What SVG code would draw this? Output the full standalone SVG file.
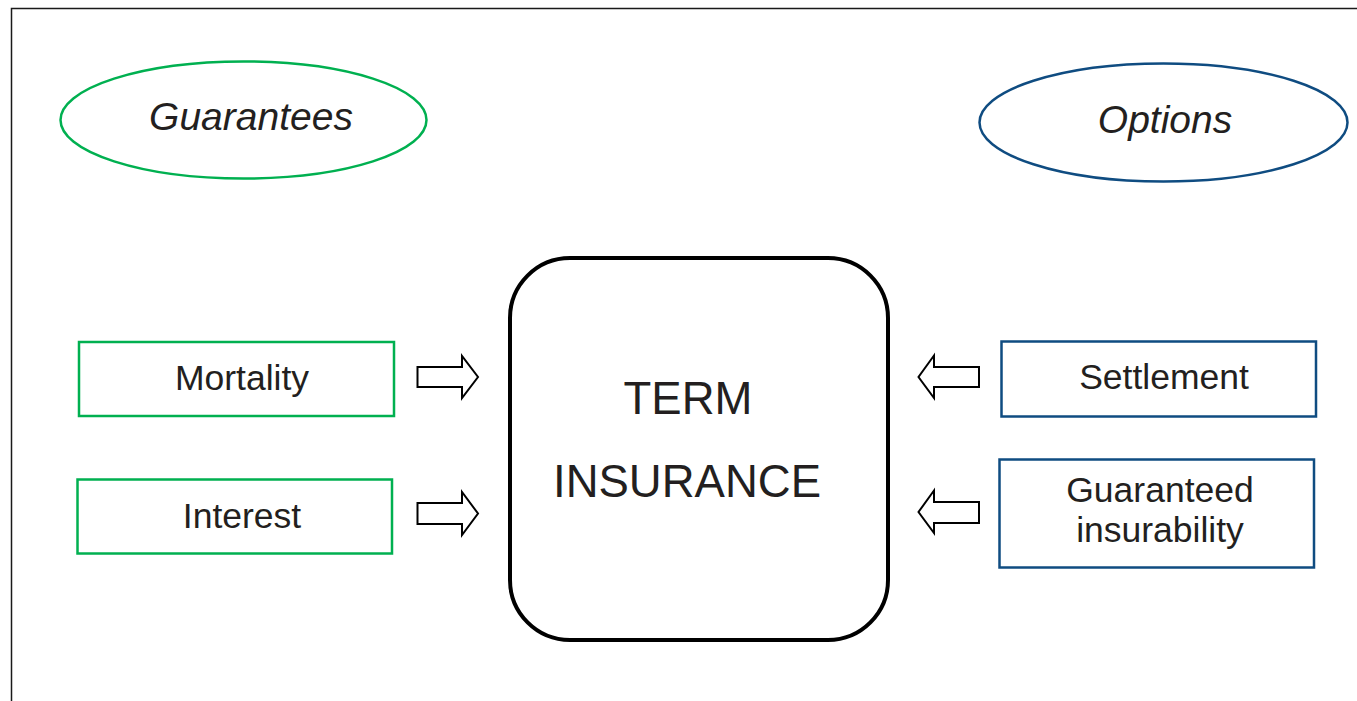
<svg xmlns="http://www.w3.org/2000/svg" width="1357" height="701" viewBox="0 0 1357 701">
  <style>
    .lbl { font-family: "Liberation Sans", Arial, sans-serif; fill: #231f20; text-anchor: middle; }
    .head { font-style: italic; font-size: 39px; }
    .box { font-size: 35.5px; }
    .main { font-size: 45.5px; }
    .g { fill: #fff; stroke: #00b050; stroke-width: 2.5; }
    .b { fill: #fff; stroke: #0f4c81; stroke-width: 2.5; }
    .arrow { fill: #fff; stroke: #000; stroke-width: 2; stroke-linejoin: miter; }
  </style>
  <rect width="1357" height="701" fill="#fff"/>
  <!-- outer frame -->
  <path d="M11.5 701 V8.5 H1357" fill="none" stroke="#1a1a1a" stroke-width="1.5"/>

  <g id="guarantees">
    <ellipse class="g" cx="243.5" cy="120" rx="183" ry="58.5"/>
    <text class="lbl head" x="251" y="130">Guarantees</text>
  </g>
  <g id="options">
    <ellipse class="b" cx="1163.5" cy="122.5" rx="184" ry="59"/>
    <text class="lbl head" x="1165" y="133">Options</text>
  </g>

  <g id="mortality">
    <rect class="g" x="79" y="342" width="315" height="74"/>
    <text class="lbl box" x="242" y="390">Mortality</text>
  </g>
  <g id="interest">
    <rect class="g" x="77.5" y="479.5" width="314.5" height="74"/>
    <text class="lbl box" x="242" y="528">Interest</text>
  </g>
  <g id="settlement">
    <rect class="b" x="1001.5" y="341.5" width="314.5" height="75"/>
    <text class="lbl box" x="1164" y="389">Settlement</text>
  </g>
  <g id="guaranteed-insurability">
    <rect class="b" x="999.5" y="459.5" width="314.5" height="108"/>
    <text class="lbl box" x="1160" y="502">Guaranteed</text>
    <text class="lbl box" x="1160" y="542">insurability</text>
  </g>

  <g id="term-insurance">
    <rect x="510" y="258" width="378" height="382" rx="60" ry="60" fill="#fff" stroke="#000" stroke-width="4"/>
    <text class="lbl main" x="688" y="414">TERM</text>
    <text class="lbl main" x="687" y="497">INSURANCE</text>
  </g>

  <g id="connectors">
    <path class="arrow" d="M417.5 367 H462 V356 L478 377 L462 398 V387 H417.5 Z"/>
    <path class="arrow" d="M417.5 503 H462 V492 L478 513.5 L462 535 V524 H417.5 Z"/>
    <path class="arrow" d="M979 367 H934 V355.5 L918.5 377 L934 398 V387 H979 Z"/>
    <path class="arrow" d="M979 502 H934 V490.5 L918.5 512 L934 533 V523 H979 Z"/>
  </g>
</svg>
